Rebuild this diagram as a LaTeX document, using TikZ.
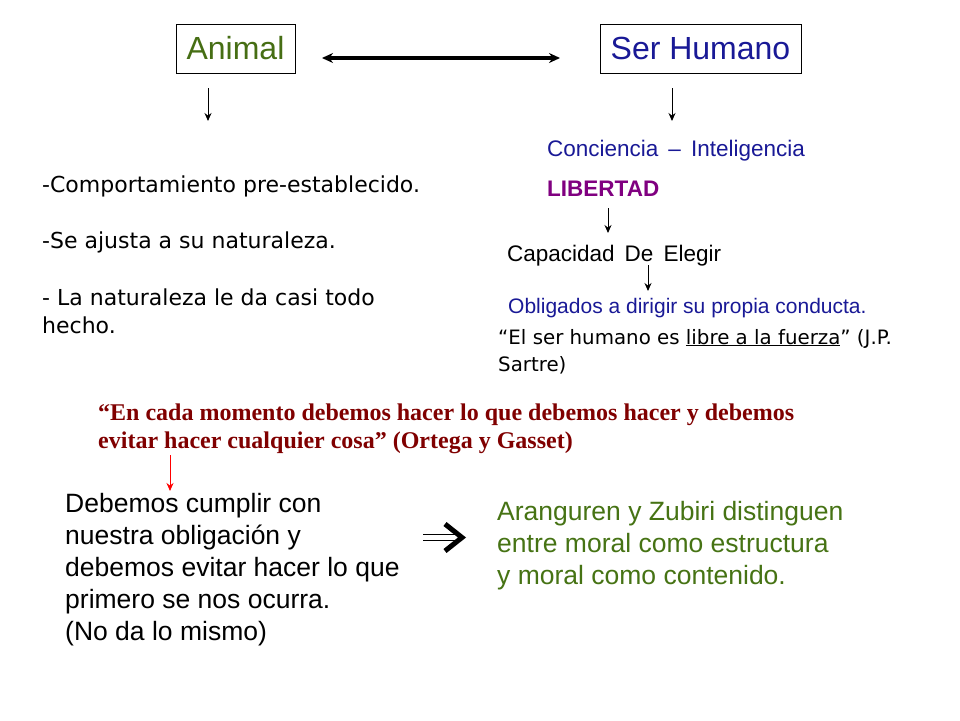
\documentclass[tikz,border=0pt]{standalone}
\usepackage{fontspec}
\setmainfont{Liberation Sans}
\newfontfamily\comicf{DejaVu Sans}
\newfontfamily\timesf{Liberation Serif}
\usetikzlibrary{arrows.meta}
\definecolor{anigreen}{RGB}{70,110,20}
\definecolor{navyb}{RGB}{25,25,150}
\definecolor{purp}{RGB}{128,0,128}
\definecolor{maroon}{RGB}{128,0,0}
\definecolor{txtgreen}{RGB}{70,115,20}
\tikzset{
  titlebox/.style={draw=black, line width=0.8pt, minimum height=49pt, inner sep=0pt, font=\fontsize{32}{36}\selectfont},
  txt/.style={anchor=base west, inner sep=0pt, align=left},
  smallarrow/.style={-{Stealth[length=8pt,width=7pt]}, line width=1pt},
}
\begin{document}
\begin{tikzpicture}[x=1pt,y=-1pt]
\useasboundingbox[fill=white] (0,0) rectangle (960,720);
% boxes
\node[titlebox, minimum width=119pt, text=anigreen] (animal) at (235.5,48.5) {Animal};
\node[titlebox, minimum width=201pt, text=navyb] (human) at (700.5,48.5) {Ser Humano};
\coordinate (dl) at (322,58);
\coordinate (dr) at (560,58);
\draw[{Stealth[length=11pt,width=10pt]}-{Stealth[length=11pt,width=10pt]}, line width=3.4pt] (dl) -- (dr);
% down arrows
\coordinate (a1) at (208,88); \coordinate (a2) at (208,121);
\coordinate (h1) at (672,88); \coordinate (h2) at (672,121);
\draw[smallarrow] (a1) -- (a2);
\draw[smallarrow] (h1) -- (h2);
% right column
\node[txt, text=navyb, font=\fontsize{22.5}{26}\selectfont] (conc) at (547,156) {Conciencia \,–\, Inteligencia};
\node[txt, text=purp, font=\bfseries\fontsize{22.5}{26}\selectfont] (lib) at (547,196) {LIBERTAD};
\coordinate (l1) at (608,208); \coordinate (l2) at (608,233);
\draw[smallarrow] (l1) -- (l2);
\node[txt, font=\fontsize{22.5}{26}\selectfont] (cap) at (507,261) {Capacidad \,De\, Elegir};
\coordinate (c1) at (648,265); \coordinate (c2) at (648,291);
\draw[smallarrow] (c1) -- (c2);
\node[txt, text=navyb, font=\fontsize{21}{24}\selectfont] (oblig) at (508,313) {Obligados a dirigir su propia conducta.};
\node[txt, font=\comicf\fontsize{19.8}{27}\selectfont] (sartre) at (498,371) {“El ser humano es \underline{libre a la fuerza}” (J.P.\\Sartre)};
% left column
\node[txt, font=\comicf\fontsize{22}{28}\selectfont] (b1) at (42,192) {-Comportamiento pre-establecido.};
\node[txt, font=\comicf\fontsize{22}{28}\selectfont] (b2) at (42,248) {-Se ajusta a su naturaleza.};
\node[txt, font=\comicf\fontsize{22}{28}\selectfont] (b3) at (42,333) {- La naturaleza le da casi todo\\hecho.};
% quote
\node[txt, text=maroon, font=\timesf\bfseries\fontsize{24}{28}\selectfont] (quote) at (98,448) {“En cada momento debemos hacer lo que debemos hacer y debemos\\evitar hacer cualquier cosa” (Ortega y Gasset)};
\coordinate (r1) at (170,455); \coordinate (r2) at (170,491);
\draw[-{Stealth[length=8pt,width=7pt]}, line width=1pt, red] (r1) -- (r2);
% bottom
\node[txt, font=\fontsize{26.5}{32}\selectfont] (deb) at (65,640) {Debemos cumplir con\\nuestra obligación y\\debemos evitar hacer lo que\\primero se nos ocurra.\\(No da lo mismo)};
\node[txt, text=txtgreen, font=\fontsize{26.5}{32}\selectfont] (aran) at (497,584) {Aranguren y Zubiri distinguen\\entre moral como estructura\\y moral como contenido.};
% implies arrow
\coordinate (i1) at (423,534.5); \coordinate (i2) at (455,534.5);
\coordinate (i3) at (423,540.5); \coordinate (i4) at (455,540.5);
\coordinate (t1) at (445,524); \coordinate (t2) at (462,537.5); \coordinate (t3) at (445,551);
\draw[line width=1.5pt] (i1) -- (i2) (i3) -- (i4);
\draw[line width=5pt, line join=miter] (t1) -- (t2) -- (t3);
\end{tikzpicture}
\end{document}
